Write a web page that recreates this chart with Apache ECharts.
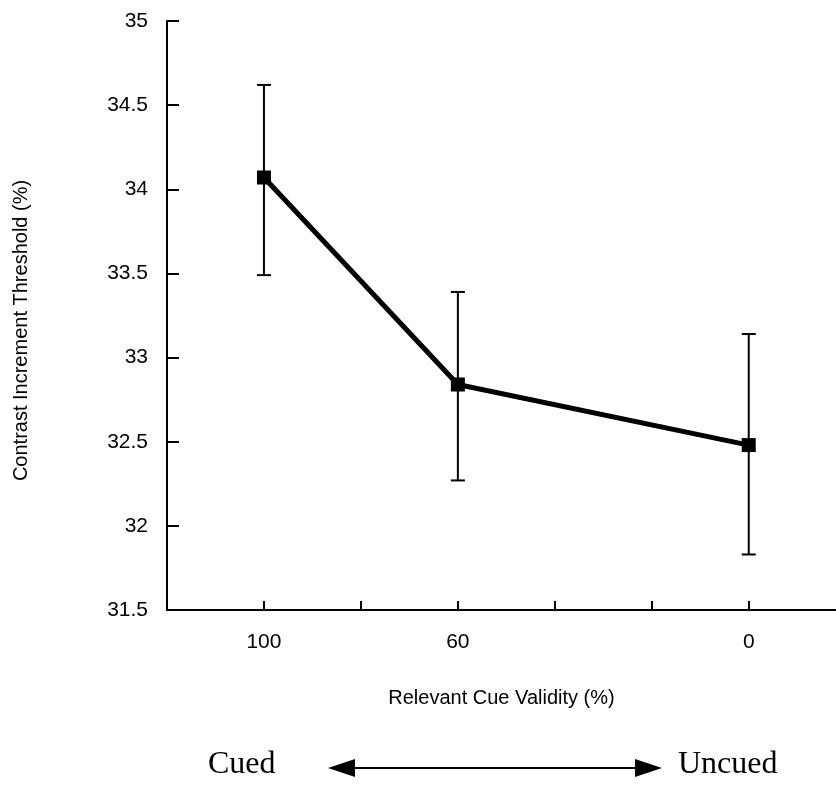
<!DOCTYPE html>
<html>
<head>
<meta charset="utf-8">
<script src="https://cdn.jsdelivr.net/npm/echarts@6/dist/echarts.min.js"></script>
<style>
html,body{margin:0;padding:0;background:#fff;}
#c{width:836px;height:788px;}
</style>
</head>
<body>
<div id="c"></div>
<script>
// Data
var categories = ['100', '60', '0'];
var xPositions = [1, 3, 6];
var xTickPositions = [1, 2, 3, 4, 5, 6];
var means = [34.07, 32.84, 32.48];
var errHigh = [34.62, 33.39, 33.14];
var errLow = [33.49, 32.27, 31.83];
var yTicks = [31.5, 32, 32.5, 33, 33.5, 34, 34.5, 35];

var chart = echarts.init(document.getElementById('c'));
var labelMap = {};
xPositions.forEach(function (p, i) { labelMap[p] = categories[i]; });

var lineData = xPositions.map(function (p, i) { return [p, means[i]]; });
var errData = xPositions.map(function (p, i) { return [p, errLow[i], errHigh[i]]; });

chart.setOption({
  animation: false,
  backgroundColor: '#ffffff',
  grid: { left: 167, right: 0, top: 21, bottom: 178, containLabel: false },
  xAxis: {
    type: 'value', min: 0, max: 6.9, interval: 1,
    name: 'Relevant Cue Validity (%)', nameLocation: 'middle', nameGap: 78,
    nameTextStyle: { fontFamily: 'Liberation Sans', fontSize: 20, color: '#000' },
    axisLine: { lineStyle: { color: '#000', width: 2 } },
    axisTick: { inside: true, length: 9, lineStyle: { color: '#000', width: 2 },
      customValues: xTickPositions },
    axisLabel: {
      margin: 22, fontFamily: 'Liberation Sans', fontSize: 21, color: '#000',
      customValues: xPositions,
      formatter: function (v) { return labelMap[v] !== undefined ? labelMap[v] : ''; }
    },
    splitLine: { show: false }
  },
  yAxis: {
    type: 'value', min: yTicks[0], max: yTicks[yTicks.length - 1], interval: 0.5,
    name: 'Contrast Increment Threshold (%)', nameLocation: 'middle', nameGap: 136,
    nameTextStyle: { fontFamily: 'Liberation Sans', fontSize: 20, color: '#000', padding: [0, 30, 0, 0] },
    axisLine: { show: true, lineStyle: { color: '#000', width: 2 } },
    axisTick: { show: true, inside: true, length: 12, lineStyle: { color: '#000', width: 2 } },
    axisLabel: { margin: 19, fontFamily: 'Liberation Sans', fontSize: 21, color: '#000',
      formatter: function (v) { return String(v); } },
    splitLine: { show: false }
  },
  series: [
    {
      type: 'custom',
      data: errData,
      z: 3,
      renderItem: function (params, api) {
        var x = api.value(0);
        var lo = api.coord([x, api.value(1)]);
        var hi = api.coord([x, api.value(2)]);
        var hw = 7;
        var st = { stroke: '#000', lineWidth: 2 };
        return {
          type: 'group',
          children: [
            { type: 'line', shape: { x1: lo[0], y1: lo[1], x2: hi[0], y2: hi[1] }, style: st },
            { type: 'line', shape: { x1: lo[0] - hw, y1: lo[1], x2: lo[0] + hw, y2: lo[1] }, style: st },
            { type: 'line', shape: { x1: hi[0] - hw, y1: hi[1], x2: hi[0] + hw, y2: hi[1] }, style: st }
          ]
        };
      }
    },
    {
      type: 'line',
      data: lineData,
      z: 4,
      symbol: 'rect', symbolSize: 14,
      lineStyle: { color: '#000', width: 5 },
      itemStyle: { color: '#000' }
    }
  ],
  graphic: [
    { type: 'text', left: 208, top: 749, style: { text: 'Cued', font: '32px "Liberation Serif"', fill: '#000' } },
    { type: 'text', left: 678, top: 749, style: { text: 'Uncued', font: '32px "Liberation Serif"', fill: '#000' } },
    { type: 'line', shape: { x1: 350, y1: 768, x2: 640, y2: 768 }, style: { stroke: '#000', lineWidth: 2 } },
    { type: 'polygon', shape: { points: [[328, 768], [355, 759], [355, 777]] }, style: { fill: '#000' } },
    { type: 'polygon', shape: { points: [[662, 768], [635, 759], [635, 777]] }, style: { fill: '#000' } }
  ]
});
</script>
</body>
</html>
